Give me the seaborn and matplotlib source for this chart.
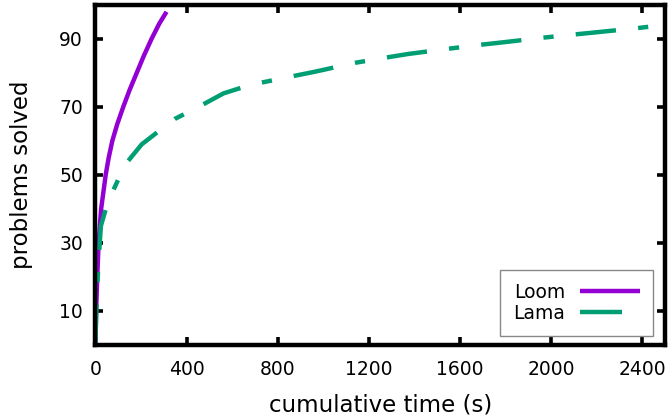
import matplotlib
matplotlib.use("Agg")
import matplotlib.pyplot as plt
from matplotlib.lines import Line2D
import seaborn as sns
import pandas as pd
import numpy as np

# values
loom_time = [0, 3, 8, 14, 25, 45, 58, 74, 96, 122, 150, 181, 212, 246, 280, 312]
loom_solved = [0, 10, 20, 30, 40, 50, 55, 60, 65, 70, 75, 80, 85, 90, 94.5, 98]

lama_time = [0, 3, 8, 14, 24, 50, 82, 130, 203, 280, 349, 452, 562, 680, 825,
             965, 1140, 1281, 1373, 1557, 1689, 1785, 1965, 2097, 2202, 2377, 2480]
lama_solved = [0, 8, 17, 25, 35, 41, 46, 53, 59, 63, 66.5, 70, 74, 76.5, 78.5,
               80.4, 83, 84.6, 85.6, 87.2, 88.3, 89.0, 90.4, 91.3, 92.0, 93.2, 94]

x_ticks = [0, 400, 800, 1200, 1600, 2000, 2400]
y_ticks = [10, 30, 50, 70, 90]

LOOM_COLOR = '#9400D3'
LAMA_COLOR = '#009E73'
LW = 3.2

sns.set_theme(style="ticks")
plt.rcParams['font.family'] = ['DejaVu Sans']
plt.rcParams.update({'text.color': 'black', 'axes.labelcolor': 'black',
                     'xtick.color': 'black', 'ytick.color': 'black'})

fig = plt.figure(figsize=(6.72, 4.17), dpi=100)
ax = fig.add_axes([0.142, 0.173, 0.848, 0.815])

loom = pd.DataFrame({'time': loom_time, 'solved': loom_solved})
lama = pd.DataFrame({'time': lama_time, 'solved': lama_solved})

sns.lineplot(data=loom, x='time', y='solved', ax=ax, color=LOOM_COLOR,
             linewidth=LW, sort=False, legend=False)
sns.lineplot(data=lama, x='time', y='solved', ax=ax, color=LAMA_COLOR,
             linewidth=LW, sort=False, legend=False)

# gnuplot style dash-dot for Lama
lama_line = ax.lines[1]
lama_line.set_linestyle((0, (9.1, 5, 2.3, 5)))
lama_line.set_dash_capstyle('butt')
ax.lines[0].set_solid_capstyle('butt')

ax.set_xlim(0, 2500)
ax.set_ylim(0, 100)
ax.set_xticks(x_ticks)
ax.set_yticks(y_ticks)
ax.set_xlabel('cumulative time (s)', fontsize=16.5, labelpad=10)
ax.set_ylabel('problems solved', fontsize=16.5, labelpad=19)

for s in ax.spines.values():
    s.set_visible(True)
    s.set_linewidth(LW)
    s.set_color('black')

ax.tick_params(axis='both', which='both', direction='in', top=True, right=True,
               length=6, width=2.6, labelsize=13.5)
ax.tick_params(axis='x', pad=11)
ax.tick_params(axis='y', pad=9)

# legend samples: solid strokes, the Lama one only as long as its first dash
handles = [Line2D([], [], color=LOOM_COLOR, lw=LW, solid_capstyle='butt'),
           Line2D([], [], color=LAMA_COLOR, lw=LW, solid_capstyle='butt')]
leg = ax.legend(handles=handles, labels=['Loom', 'Lama'],
                loc='lower right', markerfirst=False, fontsize=13.5,
                handlelength=3.2, handletextpad=0.8, borderpad=0.7,
                borderaxespad=0, fancybox=False, framealpha=1,
                bbox_to_anchor=(0.979, 0.026), labelspacing=0.12)
leg.get_frame().set_edgecolor('#888888')
leg.get_frame().set_linewidth(1.0)

lama_sample = leg.get_lines()[1]
xd = np.asarray(lama_sample.get_xdata(), dtype=float)
yd = np.asarray(lama_sample.get_ydata(), dtype=float)
lama_sample.set_xdata([xd[0], xd[0] + 0.7 * (xd[-1] - xd[0])])
lama_sample.set_ydata([yd[0], yd[0]])

fig.savefig('out.png', dpi=100)
